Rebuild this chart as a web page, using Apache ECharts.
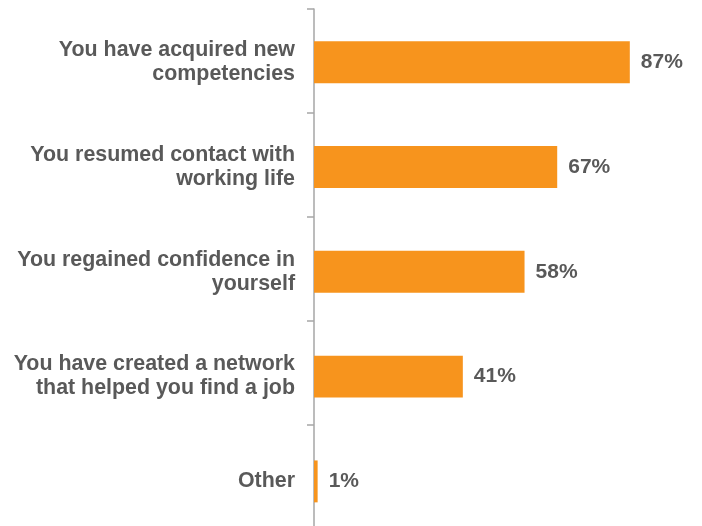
<!DOCTYPE html>
<html>
<head>
<meta charset="utf-8">
<script src="https://cdn.jsdelivr.net/npm/echarts@6/dist/echarts.min.js"></script>
<style>
html,body{margin:0;padding:0;background:#fff;}
#chart{width:702px;height:526px;}
</style>
</head>
<body>
<div id="chart"></div>
<script>
// Survey answers, top to bottom
const categories = [
  'You have acquired new\ncompetencies',
  'You resumed contact with\nworking life',
  'You regained confidence in\nyourself',
  'You have created a network\nthat helped you find a job',
  'Other'
];
const shares = [87, 67, 58, 41, 1];

const textFont = 'Liberation Sans, Arial, sans-serif';
const grey = '#595959';

const chart = echarts.init(document.getElementById('chart'), null, {renderer: 'canvas'});
chart.setOption({
  animation: false,
  grid: [
    // frame grid: the vertical axis line with its band ticks
    {left: 314, right: 25, top: 9, height: 520, outerBoundsMode: 'none', containLabel: false},
    // bar grid: bars and category labels
    {left: 314, right: 25, top: 9.8, height: 524, outerBoundsMode: 'none', containLabel: false}
  ],
  xAxis: [
    {gridIndex: 0, type: 'value', min: 0, max: 100, show: false},
    {gridIndex: 1, type: 'value', min: 0, max: 100, show: false}
  ],
  yAxis: [
    {
      gridIndex: 0,
      type: 'category',
      data: categories,
      inverse: true,
      axisLine: {show: true, lineStyle: {color: '#a6a6a6', width: 1.5}},
      axisTick: {show: true, length: 7, lineStyle: {color: '#a6a6a6', width: 1.5}},
      axisLabel: {show: false}
    },
    {
      gridIndex: 1,
      type: 'category',
      data: categories,
      inverse: true,
      axisLine: {show: false},
      axisTick: {show: false},
      axisLabel: {
        margin: 19,
        color: grey,
        fontFamily: textFont,
        fontWeight: 'bold',
        fontSize: 21.4,
        lineHeight: 24,
        align: 'right'
      }
    }
  ],
  series: [{
    type: 'bar',
    xAxisIndex: 1,
    yAxisIndex: 1,
    data: shares,
    barCategoryGap: '60%',
    itemStyle: {color: '#f7941d'},
    label: {
      show: true,
      position: 'right',
      distance: 11,
      formatter: '{c}%',
      color: grey,
      fontFamily: textFont,
      fontWeight: 'bold',
      fontSize: 21
    }
  }]
});
</script>
</body>
</html>
